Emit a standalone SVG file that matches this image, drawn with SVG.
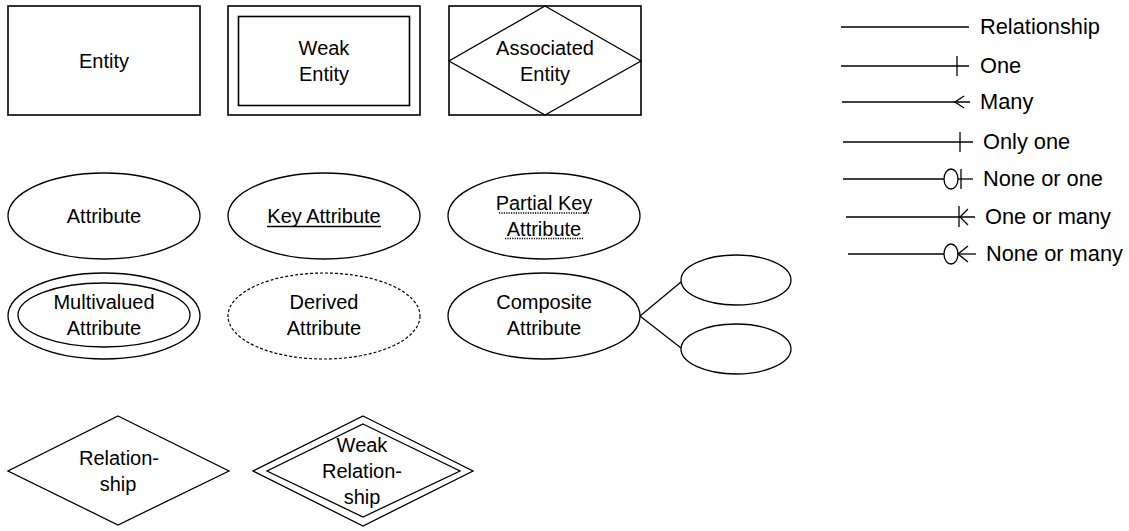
<svg xmlns="http://www.w3.org/2000/svg" width="1129" height="531" viewBox="0 0 1129 531">
<style>
.s{fill:none;stroke:#000;stroke-width:1.3}
.r{fill:none;stroke:#000;stroke-width:1.6}
.t{font-family:"Liberation Sans",Arial,sans-serif;font-size:20px;fill:#000;text-anchor:middle}
.l{font-family:"Liberation Sans",Arial,sans-serif;font-size:21.8px;fill:#000}
.d{fill:none;stroke:#000;stroke-width:1.2;stroke-dasharray:3,2}
.u{stroke:#000;stroke-width:1.3;stroke-dasharray:1.2,1.2}
</style>
<rect width="1129" height="531" fill="#fff"/>
<g id="entity">
<rect class="r" x="8" y="6" width="192" height="109"/>
<text class="t" x="104" y="68">Entity</text>
</g>
<g id="weak-entity">
<rect class="r" x="228" y="6" width="192" height="109"/>
<rect class="r" x="238.5" y="16.5" width="171" height="89"/>
<text class="t" x="324" y="55">Weak</text>
<text class="t" x="324" y="81">Entity</text>
</g>
<g id="associated-entity">
<rect class="r" x="449" y="6" width="192" height="109"/>
<polygon class="s" points="545,6 641,61 545,115 449,61"/>
<text class="t" x="545" y="55">Associated</text>
<text class="t" x="545" y="81">Entity</text>
</g>
<g id="attribute">
<ellipse class="s" cx="104" cy="216" rx="96" ry="43"/>
<text class="t" x="104" y="223">Attribute</text>
</g>
<g id="key-attribute">
<ellipse class="s" cx="324" cy="216" rx="96" ry="43"/>
<text class="t" x="324" y="223">Key Attribute</text>
<line x1="267" y1="226.5" x2="381" y2="226.5" stroke="#000" stroke-width="1.3"/>
</g>
<g id="partial-key-attribute">
<ellipse class="s" cx="544" cy="216" rx="96" ry="43"/>
<text class="t" x="544" y="210">Partial Key</text>
<text class="t" x="544" y="236">Attribute</text>
<line class="u" x1="499" y1="213" x2="590" y2="213"/>
<line class="u" x1="505" y1="238.5" x2="583" y2="238.5"/>
</g>
<g id="multivalued-attribute">
<ellipse class="s" cx="104" cy="316" rx="96" ry="43"/>
<ellipse class="s" cx="104" cy="315" rx="86" ry="32"/>
<text class="t" x="104" y="309">Multivalued</text>
<text class="t" x="104" y="335">Attribute</text>
</g>
<g id="derived-attribute">
<ellipse class="d" cx="324" cy="316" rx="96" ry="43"/>
<text class="t" x="324" y="309">Derived</text>
<text class="t" x="324" y="335">Attribute</text>
</g>
<g id="composite-attribute">
<ellipse class="s" cx="544" cy="316" rx="96" ry="43"/>
<text class="t" x="544" y="309">Composite</text>
<text class="t" x="544" y="335">Attribute</text>
</g>
<g id="sub-attribute-1">
<ellipse class="s" cx="736" cy="280" rx="55" ry="25"/>
</g>
<g id="sub-attribute-2">
<ellipse class="s" cx="736" cy="349" rx="55" ry="25"/>
</g>
<g id="relationship">
<polygon class="s" points="118,416 229,471 118,525 8,471"/>
<text class="t" x="119" y="465">Relation-</text>
<text class="t" x="118" y="491">ship</text>
</g>
<g id="weak-relationship">
<polygon class="s" points="363,416 473,471 363,526 253,471"/>
<polygon class="s" points="363,424 460,471 363,517 267,471"/>
<text class="t" x="362" y="452">Weak</text>
<text class="t" x="362" y="478">Relation-</text>
<text class="t" x="362" y="504">ship</text>
</g>
<g id="connectors">
<line class="s" x1="640" y1="316" x2="681" y2="282"/>
<line class="s" x1="640" y1="316" x2="681" y2="348"/>
</g>
<g id="legend">
<line class="s" x1="841" y1="27" x2="969" y2="27"/>
<text class="l" x="980" y="34">Relationship</text>
<line class="s" x1="841" y1="66" x2="969" y2="66"/>
<line class="s" x1="957" y1="56" x2="957" y2="76"/>
<text class="l" x="980" y="73">One</text>
<line class="s" x1="842" y1="102" x2="970" y2="102"/>
<polyline class="s" points="964,96 955,102 964,108"/>
<text class="l" x="980" y="109">Many</text>
<line class="s" x1="843" y1="142" x2="973" y2="142"/>
<line class="s" x1="960" y1="132" x2="960" y2="152"/>
<text class="l" x="983" y="149">Only one</text>
<line class="s" x1="843" y1="179" x2="944" y2="179"/>
<line class="s" x1="958" y1="179" x2="973" y2="179"/>
<ellipse class="s" cx="951" cy="179" rx="7" ry="10"/>
<line class="s" x1="961" y1="169" x2="961" y2="189"/>
<text class="l" x="983" y="186">None or one</text>
<line class="s" x1="846" y1="217" x2="975" y2="217"/>
<line class="s" x1="959" y1="206" x2="959" y2="227"/>
<polyline class="s" points="968,209 960,217 968,225"/>
<text class="l" x="985" y="224">One or many</text>
<line class="s" x1="848" y1="254" x2="944" y2="254"/>
<line class="s" x1="958" y1="254" x2="976" y2="254"/>
<ellipse class="s" cx="951" cy="254" rx="7" ry="10"/>
<polyline class="s" points="968,246 958,254 968,262"/>
<text class="l" x="986" y="261">None or many</text>
</g>
</svg>
